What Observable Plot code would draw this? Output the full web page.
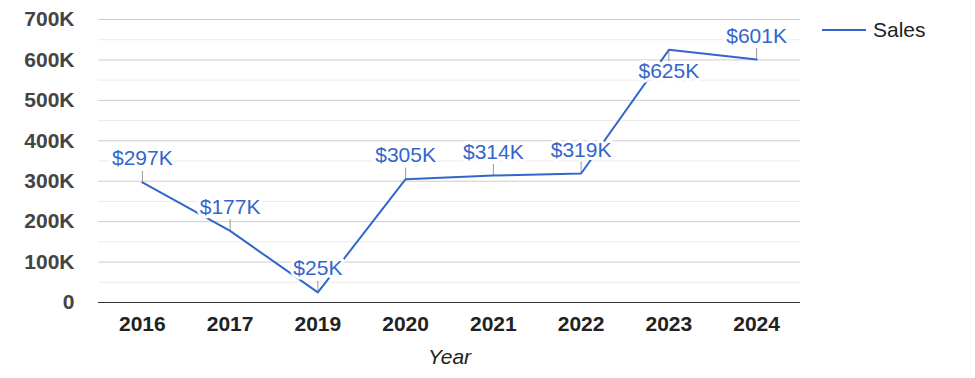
<!DOCTYPE html>
<html><head><meta charset="utf-8">
<script src="https://cdn.jsdelivr.net/npm/d3@7"></script>
<script src="https://cdn.jsdelivr.net/npm/@observablehq/plot@0.6"></script>
<style>
body{margin:0;background:#fff;font-family:"Liberation Sans",Arial,sans-serif;}
#wrap{position:relative;width:975px;height:378px;}
#legend .sw{position:absolute;left:822px;top:29px;width:44px;height:2px;background:#3366cc;}
#legend .lab{position:absolute;left:873px;top:19px;font-size:21px;line-height:21px;color:#222;}
</style></head><body>
<div id="wrap"><div id="legend"><span class="sw"></span><span class="lab">Sales</span></div></div>
<script>
const years = ["2016","2017","2019","2020","2021","2022","2023","2024"];
const sales = [297000,177000,25000,305000,314000,319000,625000,601000];
const labelSide = ["above","above","above","above","above","above","below","above"];
const yTicks = [0,100000,200000,300000,400000,500000,600000,700000];
const minorTicks = [50000,150000,250000,350000,450000,550000,650000];

const data = years.map((year,i)=>({year, sales: sales[i], side: labelSide[i]}));
const blue = "#3366cc";
const fmtK = d => d === 0 ? "0" : `${d/1000}K`;
const fmtLabel = d => `$${Math.round(d/1000)}K`;
const labelOpts = {x:"year", y:"sales", text:d=>fmtLabel(d.sales), fill:blue, fontSize:21,
  lineAnchor:"bottom", stroke:"white", strokeWidth:6, paintOrder:"stroke"};

const chart = Plot.plot({
  width:975, height:378, marginLeft:98, marginRight:175, marginTop:19, marginBottom:76,
  style:{fontFamily:'"Liberation Sans", Arial, sans-serif', background:"white", overflow:"visible"},
  x:{type:"point", domain:years, padding:0.5, round:false},
  y:{domain:[0,700000]},
  marks:[
    Plot.ruleY(minorTicks,{stroke:"#ebebeb"}),
    Plot.ruleY(yTicks.filter(d=>d>0),{stroke:"#cccccc"}),
    Plot.ruleY([0],{stroke:"#333"}),
    Plot.axisY(yTicks,{tickSize:0, tickPadding:24, tickFormat:fmtK, fontSize:21, fontWeight:"bold", fill:"#444", label:null}),
    Plot.axisX({tickSize:0, tickPadding:14, fontSize:21, fontWeight:"bold", fill:"#222", label:null}),
    Plot.text(["Year"],{frameAnchor:"bottom", dy:61, lineAnchor:"bottom", fontSize:21, fontStyle:"italic", fill:"#222"}),
    Plot.vector(data,{x:"year", y:"sales", length:11, rotate:d=>d.side==="above"?0:180, anchor:"start", r:0, stroke:"#999", strokeWidth:1}),
    Plot.line(data,{x:"year", y:"sales", stroke:blue, strokeWidth:2}),
    Plot.text(data,{...labelOpts, filter:d=>d.side==="above", dy:-17}),
    Plot.text(data,{...labelOpts, filter:d=>d.side==="below", dy:28})
  ]
});
document.getElementById("wrap").prepend(chart);
</script>
</body></html>
